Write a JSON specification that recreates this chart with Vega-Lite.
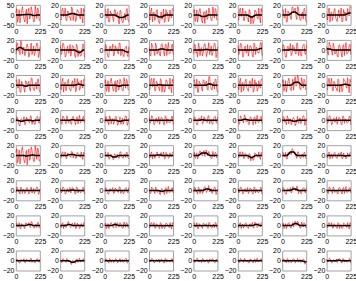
{
"$schema":"https://vega.github.io/schema/vega-lite/v6.json",
"padding":{"left":1,"top":0,"right":0,"bottom":0},
"background":"white",
"data":{"values":[
{"p":1,"x":0,"r":14,"b":0},{"p":1,"x":15,"r":-36,"b":0},{"p":1,"x":30,"r":27,"b":0},{"p":1,"x":45,"r":-9,"b":0},{"p":1,"x":60,"r":42,"b":1},{"p":1,"x":75,"r":-22,"b":1},{"p":1,"x":90,"r":7,"b":2},{"p":1,"x":105,"r":-44,"b":3},{"p":1,"x":120,"r":34,"b":3},{"p":1,"x":135,"r":-11,"b":2},{"p":1,"x":150,"r":22,"b":0},{"p":1,"x":165,"r":-34,"b":-2},{"p":1,"x":180,"r":46,"b":-2},{"p":1,"x":195,"r":-18,"b":0},{"p":1,"x":210,"r":27,"b":0},{"p":1,"x":225,"r":-27,"b":0},
{"p":2,"x":0,"r":-8,"b":0},{"p":2,"x":15,"r":11,"b":0},{"p":2,"x":30,"r":-3,"b":0},{"p":2,"x":45,"r":14,"b":0},{"p":2,"x":60,"r":-11,"b":0},{"p":2,"x":75,"r":6,"b":1},{"p":2,"x":90,"r":-4,"b":2},{"p":2,"x":105,"r":16,"b":3},{"p":2,"x":120,"r":-11,"b":3},{"p":2,"x":135,"r":4,"b":2},{"p":2,"x":150,"r":-9,"b":1},{"p":2,"x":165,"r":8,"b":0},{"p":2,"x":180,"r":-5,"b":0},{"p":2,"x":195,"r":14,"b":0},{"p":2,"x":210,"r":-16,"b":0},{"p":2,"x":225,"r":6,"b":0},
{"p":3,"x":0,"r":10,"b":0},{"p":3,"x":15,"r":-5,"b":0},{"p":3,"x":30,"r":13,"b":0},{"p":3,"x":45,"r":-14,"b":0},{"p":3,"x":60,"r":3,"b":0},{"p":3,"x":75,"r":-6,"b":0},{"p":3,"x":90,"r":11,"b":0},{"p":3,"x":105,"r":-3,"b":-1},{"p":3,"x":120,"r":5,"b":-3},{"p":3,"x":135,"r":-18,"b":-5},{"p":3,"x":150,"r":9,"b":-5},{"p":3,"x":165,"r":-15,"b":-5},{"p":3,"x":180,"r":-2,"b":-4},{"p":3,"x":195,"r":-10,"b":-2},{"p":3,"x":210,"r":13,"b":0},{"p":3,"x":225,"r":-14,"b":0},
{"p":4,"x":0,"r":-3,"b":0},{"p":4,"x":15,"r":8,"b":0},{"p":4,"x":30,"r":-14,"b":0},{"p":4,"x":45,"r":6,"b":0},{"p":4,"x":60,"r":-2,"b":0},{"p":4,"x":75,"r":11,"b":-2},{"p":4,"x":90,"r":-14,"b":-4},{"p":4,"x":105,"r":-1,"b":-4},{"p":4,"x":120,"r":-9,"b":-4},{"p":4,"x":135,"r":12,"b":-2},{"p":4,"x":150,"r":-11,"b":0},{"p":4,"x":165,"r":2,"b":0},{"p":4,"x":180,"r":-13,"b":0},{"p":4,"x":195,"r":10,"b":0},{"p":4,"x":210,"r":-6,"b":0},{"p":4,"x":225,"r":11,"b":0},
{"p":5,"x":0,"r":5,"b":0},{"p":5,"x":15,"r":-13,"b":0},{"p":5,"x":30,"r":10,"b":0},{"p":5,"x":45,"r":-3,"b":0},{"p":5,"x":60,"r":13,"b":-1},{"p":5,"x":75,"r":-11,"b":-3},{"p":5,"x":90,"r":-1,"b":-3},{"p":5,"x":105,"r":-17,"b":-3},{"p":5,"x":120,"r":9,"b":-2},{"p":5,"x":135,"r":-5,"b":0},{"p":5,"x":150,"r":8,"b":0},{"p":5,"x":165,"r":-11,"b":0},{"p":5,"x":180,"r":16,"b":0},{"p":5,"x":195,"r":-6,"b":0},{"p":5,"x":210,"r":10,"b":0},{"p":5,"x":225,"r":-10,"b":0},
{"p":6,"x":0,"r":-8,"b":0},{"p":6,"x":15,"r":11,"b":0},{"p":6,"x":30,"r":-3,"b":0},{"p":6,"x":45,"r":14,"b":0},{"p":6,"x":60,"r":-11,"b":0},{"p":6,"x":75,"r":5,"b":0},{"p":6,"x":90,"r":-6,"b":0},{"p":6,"x":105,"r":11,"b":-2},{"p":6,"x":120,"r":-18,"b":-4},{"p":6,"x":135,"r":-2,"b":-4},{"p":6,"x":150,"r":-12,"b":-2},{"p":6,"x":165,"r":8,"b":0},{"p":6,"x":180,"r":-5,"b":0},{"p":6,"x":195,"r":14,"b":0},{"p":6,"x":210,"r":-16,"b":0},{"p":6,"x":225,"r":6,"b":0},
{"p":7,"x":0,"r":10,"b":0},{"p":7,"x":15,"r":-5,"b":0},{"p":7,"x":30,"r":13,"b":0},{"p":7,"x":45,"r":-14,"b":0},{"p":7,"x":60,"r":3,"b":0},{"p":7,"x":75,"r":-4,"b":2},{"p":7,"x":90,"r":16,"b":5},{"p":7,"x":105,"r":4,"b":6},{"p":7,"x":120,"r":14,"b":6},{"p":7,"x":135,"r":-9,"b":4},{"p":7,"x":150,"r":15,"b":1},{"p":7,"x":165,"r":-10,"b":0},{"p":7,"x":180,"r":2,"b":0},{"p":7,"x":195,"r":-8,"b":0},{"p":7,"x":210,"r":13,"b":0},{"p":7,"x":225,"r":-14,"b":0},
{"p":8,"x":0,"r":-3,"b":0},{"p":8,"x":15,"r":8,"b":0},{"p":8,"x":30,"r":-14,"b":0},{"p":8,"x":45,"r":6,"b":0},{"p":8,"x":60,"r":-2,"b":0},{"p":8,"x":75,"r":13,"b":0},{"p":8,"x":90,"r":-10,"b":0},{"p":8,"x":105,"r":3,"b":0},{"p":8,"x":120,"r":-5,"b":0},{"p":8,"x":135,"r":14,"b":0},{"p":8,"x":150,"r":-11,"b":0},{"p":8,"x":165,"r":2,"b":0},{"p":8,"x":180,"r":-12,"b":1},{"p":8,"x":195,"r":13,"b":3},{"p":8,"x":210,"r":-2,"b":4},{"p":8,"x":225,"r":15,"b":4},
{"p":9,"x":0,"r":-8,"b":0},{"p":9,"x":15,"r":14,"b":3},{"p":9,"x":30,"r":2,"b":5},{"p":9,"x":45,"r":19,"b":5},{"p":9,"x":60,"r":-8,"b":3},{"p":9,"x":75,"r":6,"b":1},{"p":9,"x":90,"r":-6,"b":0},{"p":9,"x":105,"r":12,"b":0},{"p":9,"x":120,"r":-14,"b":0},{"p":9,"x":135,"r":2,"b":0},{"p":9,"x":150,"r":-9,"b":0},{"p":9,"x":165,"r":8,"b":0},{"p":9,"x":180,"r":-5,"b":0},{"p":9,"x":195,"r":14,"b":0},{"p":9,"x":210,"r":-15,"b":0},{"p":9,"x":225,"r":6,"b":0},
{"p":10,"x":0,"r":9,"b":0},{"p":10,"x":15,"r":-5,"b":0},{"p":10,"x":30,"r":12,"b":0},{"p":10,"x":45,"r":-14,"b":0},{"p":10,"x":60,"r":3,"b":0},{"p":10,"x":75,"r":-6,"b":0},{"p":10,"x":90,"r":11,"b":0},{"p":10,"x":105,"r":-2,"b":0},{"p":10,"x":120,"r":8,"b":0},{"p":10,"x":135,"r":-12,"b":0},{"p":10,"x":150,"r":12,"b":-2},{"p":10,"x":165,"r":-13,"b":-4},{"p":10,"x":180,"r":-3,"b":-5},{"p":10,"x":195,"r":-11,"b":-3},{"p":10,"x":210,"r":12,"b":0},{"p":10,"x":225,"r":-14,"b":0},
{"p":11,"x":0,"r":-3,"b":0},{"p":11,"x":15,"r":8,"b":0},{"p":11,"x":30,"r":-14,"b":0},{"p":11,"x":45,"r":6,"b":0},{"p":11,"x":60,"r":-2,"b":0},{"p":11,"x":75,"r":12,"b":0},{"p":11,"x":90,"r":-9,"b":0},{"p":11,"x":105,"r":3,"b":0},{"p":11,"x":120,"r":-5,"b":0},{"p":11,"x":135,"r":14,"b":0},{"p":11,"x":150,"r":-11,"b":0},{"p":11,"x":165,"r":2,"b":0},{"p":11,"x":180,"r":-13,"b":-1},{"p":11,"x":195,"r":6,"b":-3},{"p":11,"x":210,"r":-10,"b":-4},{"p":11,"x":225,"r":7,"b":-4},
{"p":12,"x":0,"r":5,"b":0},{"p":12,"x":15,"r":-12,"b":0},{"p":12,"x":30,"r":9,"b":0},{"p":12,"x":45,"r":-3,"b":0},{"p":12,"x":60,"r":14,"b":0},{"p":12,"x":75,"r":-8,"b":0},{"p":12,"x":90,"r":3,"b":1},{"p":12,"x":105,"r":-12,"b":2},{"p":12,"x":120,"r":13,"b":2},{"p":12,"x":135,"r":-3,"b":2},{"p":12,"x":150,"r":9,"b":1},{"p":12,"x":165,"r":-11,"b":0},{"p":12,"x":180,"r":15,"b":0},{"p":12,"x":195,"r":-6,"b":0},{"p":12,"x":210,"r":9,"b":0},{"p":12,"x":225,"r":-9,"b":0},
{"p":13,"x":0,"r":-8,"b":0},{"p":13,"x":15,"r":11,"b":0},{"p":13,"x":30,"r":-3,"b":0},{"p":13,"x":45,"r":14,"b":0},{"p":13,"x":60,"r":-11,"b":0},{"p":13,"x":75,"r":5,"b":0},{"p":13,"x":90,"r":-6,"b":0},{"p":13,"x":105,"r":13,"b":1},{"p":13,"x":120,"r":-13,"b":1},{"p":13,"x":135,"r":3,"b":1},{"p":13,"x":150,"r":-9,"b":0},{"p":13,"x":165,"r":8,"b":0},{"p":13,"x":180,"r":-5,"b":0},{"p":13,"x":195,"r":14,"b":0},{"p":13,"x":210,"r":-15,"b":0},{"p":13,"x":225,"r":6,"b":0},
{"p":14,"x":0,"r":9,"b":0},{"p":14,"x":15,"r":-5,"b":0},{"p":14,"x":30,"r":12,"b":0},{"p":14,"x":45,"r":-14,"b":0},{"p":14,"x":60,"r":3,"b":0},{"p":14,"x":75,"r":-6,"b":0},{"p":14,"x":90,"r":11,"b":0},{"p":14,"x":105,"r":-2,"b":0},{"p":14,"x":120,"r":8,"b":0},{"p":14,"x":135,"r":-12,"b":0},{"p":14,"x":150,"r":14,"b":0},{"p":14,"x":165,"r":-9,"b":0},{"p":14,"x":180,"r":3,"b":1},{"p":14,"x":195,"r":-6,"b":2},{"p":14,"x":210,"r":15,"b":3},{"p":14,"x":225,"r":-11,"b":3},
{"p":15,"x":0,"r":-3,"b":0},{"p":15,"x":15,"r":8,"b":0},{"p":15,"x":30,"r":-14,"b":0},{"p":15,"x":45,"r":6,"b":0},{"p":15,"x":60,"r":-2,"b":0},{"p":15,"x":75,"r":13,"b":1},{"p":15,"x":90,"r":-8,"b":1},{"p":15,"x":105,"r":3,"b":0},{"p":15,"x":120,"r":-5,"b":0},{"p":15,"x":135,"r":14,"b":0},{"p":15,"x":150,"r":-11,"b":0},{"p":15,"x":165,"r":2,"b":0},{"p":15,"x":180,"r":-12,"b":0},{"p":15,"x":195,"r":9,"b":0},{"p":15,"x":210,"r":-6,"b":0},{"p":15,"x":225,"r":11,"b":0},
{"p":16,"x":0,"r":7,"b":2},{"p":16,"x":15,"r":-10,"b":2},{"p":16,"x":30,"r":11,"b":2},{"p":16,"x":45,"r":-2,"b":1},{"p":16,"x":60,"r":14,"b":0},{"p":16,"x":75,"r":-8,"b":0},{"p":16,"x":90,"r":2,"b":0},{"p":16,"x":105,"r":-14,"b":0},{"p":16,"x":120,"r":11,"b":0},{"p":16,"x":135,"r":-5,"b":0},{"p":16,"x":150,"r":8,"b":0},{"p":16,"x":165,"r":-11,"b":0},{"p":16,"x":180,"r":15,"b":0},{"p":16,"x":195,"r":-6,"b":0},{"p":16,"x":210,"r":9,"b":0},{"p":16,"x":225,"r":-9,"b":0},
{"p":17,"x":0,"r":9,"b":0},{"p":17,"x":15,"r":-5,"b":0},{"p":17,"x":30,"r":12,"b":0},{"p":17,"x":45,"r":-14,"b":0},{"p":17,"x":60,"r":3,"b":0},{"p":17,"x":75,"r":-7,"b":-1},{"p":17,"x":90,"r":9,"b":-2},{"p":17,"x":105,"r":-3,"b":-1},{"p":17,"x":120,"r":8,"b":0},{"p":17,"x":135,"r":-12,"b":0},{"p":17,"x":150,"r":14,"b":0},{"p":17,"x":165,"r":-9,"b":0},{"p":17,"x":180,"r":2,"b":0},{"p":17,"x":195,"r":-8,"b":0},{"p":17,"x":210,"r":12,"b":0},{"p":17,"x":225,"r":-14,"b":0},
{"p":18,"x":0,"r":-3,"b":0},{"p":18,"x":15,"r":8,"b":0},{"p":18,"x":30,"r":-14,"b":0},{"p":18,"x":45,"r":6,"b":0},{"p":18,"x":60,"r":-2,"b":0},{"p":18,"x":75,"r":12,"b":0},{"p":18,"x":90,"r":-9,"b":0},{"p":18,"x":105,"r":3,"b":0},{"p":18,"x":120,"r":-5,"b":0},{"p":18,"x":135,"r":14,"b":0},{"p":18,"x":150,"r":-10,"b":1},{"p":18,"x":165,"r":4,"b":2},{"p":18,"x":180,"r":-10,"b":2},{"p":18,"x":195,"r":10,"b":1},{"p":18,"x":210,"r":-6,"b":0},{"p":18,"x":225,"r":11,"b":0},
{"p":19,"x":0,"r":5,"b":0},{"p":19,"x":15,"r":-12,"b":0},{"p":19,"x":30,"r":9,"b":0},{"p":19,"x":45,"r":-3,"b":0},{"p":19,"x":60,"r":14,"b":0},{"p":19,"x":75,"r":-8,"b":0},{"p":19,"x":90,"r":2,"b":0},{"p":19,"x":105,"r":-14,"b":0},{"p":19,"x":120,"r":10,"b":-1},{"p":19,"x":135,"r":-7,"b":-2},{"p":19,"x":150,"r":7,"b":-1},{"p":19,"x":165,"r":-11,"b":0},{"p":19,"x":180,"r":15,"b":0},{"p":19,"x":195,"r":-6,"b":0},{"p":19,"x":210,"r":9,"b":0},{"p":19,"x":225,"r":-9,"b":0},
{"p":20,"x":0,"r":-8,"b":0},{"p":20,"x":15,"r":11,"b":0},{"p":20,"x":30,"r":-3,"b":0},{"p":20,"x":45,"r":14,"b":0},{"p":20,"x":60,"r":-11,"b":0},{"p":20,"x":75,"r":5,"b":0},{"p":20,"x":90,"r":-5,"b":1},{"p":20,"x":105,"r":13,"b":1},{"p":20,"x":120,"r":-14,"b":0},{"p":20,"x":135,"r":2,"b":0},{"p":20,"x":150,"r":-9,"b":0},{"p":20,"x":165,"r":8,"b":0},{"p":20,"x":180,"r":-5,"b":0},{"p":20,"x":195,"r":14,"b":0},{"p":20,"x":210,"r":-15,"b":0},{"p":20,"x":225,"r":6,"b":0},
{"p":21,"x":0,"r":9,"b":0},{"p":21,"x":15,"r":-5,"b":0},{"p":21,"x":30,"r":12,"b":0},{"p":21,"x":45,"r":-14,"b":0},{"p":21,"x":60,"r":3,"b":0},{"p":21,"x":75,"r":-6,"b":0},{"p":21,"x":90,"r":11,"b":0},{"p":21,"x":105,"r":-2,"b":0},{"p":21,"x":120,"r":8,"b":0},{"p":21,"x":135,"r":-10,"b":2},{"p":21,"x":150,"r":17,"b":3},{"p":21,"x":165,"r":-7,"b":2},{"p":21,"x":180,"r":2,"b":0},{"p":21,"x":195,"r":-8,"b":0},{"p":21,"x":210,"r":12,"b":0},{"p":21,"x":225,"r":-14,"b":0},
{"p":22,"x":0,"r":-3,"b":0},{"p":22,"x":15,"r":8,"b":0},{"p":22,"x":30,"r":-14,"b":0},{"p":22,"x":45,"r":6,"b":0},{"p":22,"x":60,"r":-2,"b":0},{"p":22,"x":75,"r":12,"b":0},{"p":22,"x":90,"r":-9,"b":0},{"p":22,"x":105,"r":3,"b":0},{"p":22,"x":120,"r":-5,"b":0},{"p":22,"x":135,"r":14,"b":0},{"p":22,"x":150,"r":-11,"b":0},{"p":22,"x":165,"r":2,"b":0},{"p":22,"x":180,"r":-12,"b":0},{"p":22,"x":195,"r":9,"b":0},{"p":22,"x":210,"r":-6,"b":0},{"p":22,"x":225,"r":11,"b":0},
{"p":23,"x":0,"r":5,"b":0},{"p":23,"x":15,"r":-12,"b":0},{"p":23,"x":30,"r":9,"b":0},{"p":23,"x":45,"r":-3,"b":0},{"p":23,"x":60,"r":14,"b":0},{"p":23,"x":75,"r":-8,"b":0},{"p":23,"x":90,"r":3,"b":1},{"p":23,"x":105,"r":-10,"b":4},{"p":23,"x":120,"r":17,"b":6},{"p":23,"x":135,"r":1,"b":6},{"p":23,"x":150,"r":14,"b":6},{"p":23,"x":165,"r":-8,"b":3},{"p":23,"x":180,"r":15,"b":0},{"p":23,"x":195,"r":-6,"b":0},{"p":23,"x":210,"r":9,"b":0},{"p":23,"x":225,"r":-9,"b":0},
{"p":24,"x":0,"r":-8,"b":0},{"p":24,"x":15,"r":11,"b":0},{"p":24,"x":30,"r":-3,"b":0},{"p":24,"x":45,"r":14,"b":0},{"p":24,"x":60,"r":-11,"b":0},{"p":24,"x":75,"r":5,"b":0},{"p":24,"x":90,"r":-6,"b":0},{"p":24,"x":105,"r":12,"b":0},{"p":24,"x":120,"r":-14,"b":0},{"p":24,"x":135,"r":2,"b":0},{"p":24,"x":150,"r":-8,"b":1},{"p":24,"x":165,"r":10,"b":2},{"p":24,"x":180,"r":-3,"b":2},{"p":24,"x":195,"r":15,"b":1},{"p":24,"x":210,"r":-15,"b":0},{"p":24,"x":225,"r":6,"b":0},
{"p":25,"x":0,"r":-2,"b":0},{"p":25,"x":15,"r":5,"b":0},{"p":25,"x":30,"r":-10,"b":-1},{"p":25,"x":45,"r":2,"b":-2},{"p":25,"x":60,"r":-3,"b":-2},{"p":25,"x":75,"r":7,"b":-1},{"p":25,"x":90,"r":-6,"b":0},{"p":25,"x":105,"r":2,"b":0},{"p":25,"x":120,"r":-3,"b":0},{"p":25,"x":135,"r":9,"b":0},{"p":25,"x":150,"r":-8,"b":-1},{"p":25,"x":165,"r":0,"b":-1},{"p":25,"x":180,"r":-8,"b":0},{"p":25,"x":195,"r":6,"b":0},{"p":25,"x":210,"r":-4,"b":0},{"p":25,"x":225,"r":7,"b":0},
{"p":26,"x":0,"r":3,"b":0},{"p":26,"x":15,"r":-8,"b":0},{"p":26,"x":30,"r":6,"b":0},{"p":26,"x":45,"r":-2,"b":0},{"p":26,"x":60,"r":9,"b":0},{"p":26,"x":75,"r":-5,"b":0},{"p":26,"x":90,"r":1,"b":0},{"p":26,"x":105,"r":-8,"b":1},{"p":26,"x":120,"r":8,"b":1},{"p":26,"x":135,"r":-3,"b":0},{"p":26,"x":150,"r":5,"b":0},{"p":26,"x":165,"r":-7,"b":0},{"p":26,"x":180,"r":10,"b":0},{"p":26,"x":195,"r":-4,"b":0},{"p":26,"x":210,"r":6,"b":0},{"p":26,"x":225,"r":-6,"b":0},
{"p":27,"x":0,"r":-5,"b":0},{"p":27,"x":15,"r":7,"b":0},{"p":27,"x":30,"r":-2,"b":0},{"p":27,"x":45,"r":9,"b":0},{"p":27,"x":60,"r":-7,"b":0},{"p":27,"x":75,"r":3,"b":0},{"p":27,"x":90,"r":-4,"b":0},{"p":27,"x":105,"r":8,"b":0},{"p":27,"x":120,"r":-10,"b":-1},{"p":27,"x":135,"r":-1,"b":-2},{"p":27,"x":150,"r":-8,"b":-2},{"p":27,"x":165,"r":4,"b":-1},{"p":27,"x":180,"r":-3,"b":0},{"p":27,"x":195,"r":9,"b":0},{"p":27,"x":210,"r":-10,"b":0},{"p":27,"x":225,"r":4,"b":0},
{"p":28,"x":0,"r":6,"b":0},{"p":28,"x":15,"r":-3,"b":0},{"p":28,"x":30,"r":8,"b":0},{"p":28,"x":45,"r":-9,"b":0},{"p":28,"x":60,"r":2,"b":0},{"p":28,"x":75,"r":-4,"b":0},{"p":28,"x":90,"r":7,"b":0},{"p":28,"x":105,"r":-1,"b":0},{"p":28,"x":120,"r":5,"b":0},{"p":28,"x":135,"r":-8,"b":0},{"p":28,"x":150,"r":9,"b":0},{"p":28,"x":165,"r":-6,"b":0},{"p":28,"x":180,"r":1,"b":0},{"p":28,"x":195,"r":-5,"b":0},{"p":28,"x":210,"r":8,"b":0},{"p":28,"x":225,"r":-9,"b":0},
{"p":29,"x":0,"r":-2,"b":0},{"p":29,"x":15,"r":5,"b":0},{"p":29,"x":30,"r":-9,"b":0},{"p":29,"x":45,"r":4,"b":0},{"p":29,"x":60,"r":-1,"b":0},{"p":29,"x":75,"r":9,"b":1},{"p":29,"x":90,"r":-5,"b":1},{"p":29,"x":105,"r":2,"b":0},{"p":29,"x":120,"r":-3,"b":0},{"p":29,"x":135,"r":9,"b":0},{"p":29,"x":150,"r":-7,"b":0},{"p":29,"x":165,"r":1,"b":0},{"p":29,"x":180,"r":-8,"b":0},{"p":29,"x":195,"r":6,"b":0},{"p":29,"x":210,"r":-4,"b":0},{"p":29,"x":225,"r":7,"b":0},
{"p":30,"x":0,"r":3,"b":0},{"p":30,"x":15,"r":-8,"b":0},{"p":30,"x":30,"r":6,"b":0},{"p":30,"x":45,"r":-1,"b":1},{"p":30,"x":60,"r":11,"b":2},{"p":30,"x":75,"r":-3,"b":2},{"p":30,"x":90,"r":2,"b":1},{"p":30,"x":105,"r":-9,"b":0},{"p":30,"x":120,"r":7,"b":0},{"p":30,"x":135,"r":-3,"b":0},{"p":30,"x":150,"r":5,"b":0},{"p":30,"x":165,"r":-7,"b":0},{"p":30,"x":180,"r":10,"b":0},{"p":30,"x":195,"r":-4,"b":0},{"p":30,"x":210,"r":6,"b":0},{"p":30,"x":225,"r":-6,"b":0},
{"p":31,"x":0,"r":-5,"b":0},{"p":31,"x":15,"r":7,"b":0},{"p":31,"x":30,"r":-2,"b":0},{"p":31,"x":45,"r":9,"b":0},{"p":31,"x":60,"r":-7,"b":0},{"p":31,"x":75,"r":3,"b":0},{"p":31,"x":90,"r":-5,"b":-1},{"p":31,"x":105,"r":6,"b":-2},{"p":31,"x":120,"r":-11,"b":-2},{"p":31,"x":135,"r":0,"b":-1},{"p":31,"x":150,"r":-6,"b":0},{"p":31,"x":165,"r":5,"b":0},{"p":31,"x":180,"r":-3,"b":0},{"p":31,"x":195,"r":9,"b":0},{"p":31,"x":210,"r":-10,"b":0},{"p":31,"x":225,"r":4,"b":0},
{"p":32,"x":0,"r":6,"b":0},{"p":32,"x":15,"r":-3,"b":0},{"p":32,"x":30,"r":8,"b":0},{"p":32,"x":45,"r":-9,"b":0},{"p":32,"x":60,"r":2,"b":0},{"p":32,"x":75,"r":-4,"b":0},{"p":32,"x":90,"r":7,"b":0},{"p":32,"x":105,"r":-1,"b":0},{"p":32,"x":120,"r":5,"b":0},{"p":32,"x":135,"r":-8,"b":0},{"p":32,"x":150,"r":9,"b":0},{"p":32,"x":165,"r":-6,"b":0},{"p":32,"x":180,"r":1,"b":0},{"p":32,"x":195,"r":-5,"b":0},{"p":32,"x":210,"r":8,"b":0},{"p":32,"x":225,"r":-9,"b":0},
{"p":33,"x":0,"r":6,"b":0},{"p":33,"x":15,"r":-15,"b":0},{"p":33,"x":30,"r":11,"b":0},{"p":33,"x":45,"r":-4,"b":0},{"p":33,"x":60,"r":17,"b":0},{"p":33,"x":75,"r":-10,"b":0},{"p":33,"x":90,"r":1,"b":-1},{"p":33,"x":105,"r":-19,"b":-1},{"p":33,"x":120,"r":13,"b":0},{"p":33,"x":135,"r":-6,"b":0},{"p":33,"x":150,"r":11,"b":1},{"p":33,"x":165,"r":-12,"b":1},{"p":33,"x":180,"r":19,"b":0},{"p":33,"x":195,"r":-8,"b":0},{"p":33,"x":210,"r":11,"b":0},{"p":33,"x":225,"r":-11,"b":0},
{"p":34,"x":0,"r":-4,"b":0},{"p":34,"x":15,"r":6,"b":0},{"p":34,"x":30,"r":-2,"b":0},{"p":34,"x":45,"r":7,"b":0},{"p":34,"x":60,"r":-6,"b":0},{"p":34,"x":75,"r":3,"b":1},{"p":34,"x":90,"r":-1,"b":2},{"p":34,"x":105,"r":8,"b":2},{"p":34,"x":120,"r":-5,"b":2},{"p":34,"x":135,"r":2,"b":1},{"p":34,"x":150,"r":-5,"b":0},{"p":34,"x":165,"r":4,"b":0},{"p":34,"x":180,"r":-2,"b":0},{"p":34,"x":195,"r":7,"b":0},{"p":34,"x":210,"r":-8,"b":0},{"p":34,"x":225,"r":3,"b":0},
{"p":35,"x":0,"r":5,"b":0},{"p":35,"x":15,"r":-2,"b":0},{"p":35,"x":30,"r":6,"b":0},{"p":35,"x":45,"r":-7,"b":0},{"p":35,"x":60,"r":1,"b":-1},{"p":35,"x":75,"r":-6,"b":-3},{"p":35,"x":90,"r":3,"b":-3},{"p":35,"x":105,"r":-4,"b":-3},{"p":35,"x":120,"r":3,"b":-1},{"p":35,"x":135,"r":-6,"b":0},{"p":35,"x":150,"r":7,"b":0},{"p":35,"x":165,"r":-5,"b":0},{"p":35,"x":180,"r":1,"b":0},{"p":35,"x":195,"r":-4,"b":0},{"p":35,"x":210,"r":6,"b":0},{"p":35,"x":225,"r":-7,"b":0},
{"p":36,"x":0,"r":-2,"b":0},{"p":36,"x":15,"r":4,"b":0},{"p":36,"x":30,"r":-7,"b":0},{"p":36,"x":45,"r":3,"b":0},{"p":36,"x":60,"r":-1,"b":0},{"p":36,"x":75,"r":7,"b":1},{"p":36,"x":90,"r":-4,"b":1},{"p":36,"x":105,"r":3,"b":1},{"p":36,"x":120,"r":-2,"b":0},{"p":36,"x":135,"r":7,"b":0},{"p":36,"x":150,"r":-6,"b":0},{"p":36,"x":165,"r":1,"b":0},{"p":36,"x":180,"r":-6,"b":0},{"p":36,"x":195,"r":5,"b":0},{"p":36,"x":210,"r":-3,"b":0},{"p":36,"x":225,"r":6,"b":0},
{"p":37,"x":0,"r":2,"b":0},{"p":37,"x":15,"r":-6,"b":0},{"p":37,"x":30,"r":5,"b":0},{"p":37,"x":45,"r":-2,"b":0},{"p":37,"x":60,"r":9,"b":2},{"p":37,"x":75,"r":1,"b":5},{"p":37,"x":90,"r":6,"b":5},{"p":37,"x":105,"r":-2,"b":5},{"p":37,"x":120,"r":11,"b":5},{"p":37,"x":135,"r":0,"b":2},{"p":37,"x":150,"r":4,"b":0},{"p":37,"x":165,"r":-6,"b":0},{"p":37,"x":180,"r":8,"b":0},{"p":37,"x":195,"r":-3,"b":0},{"p":37,"x":210,"r":5,"b":0},{"p":37,"x":225,"r":-5,"b":0},
{"p":38,"x":0,"r":-4,"b":0},{"p":38,"x":15,"r":6,"b":0},{"p":38,"x":30,"r":-2,"b":0},{"p":38,"x":45,"r":7,"b":0},{"p":38,"x":60,"r":-6,"b":0},{"p":38,"x":75,"r":2,"b":0},{"p":38,"x":90,"r":-3,"b":0},{"p":38,"x":105,"r":4,"b":-2},{"p":38,"x":120,"r":-11,"b":-4},{"p":38,"x":135,"r":-3,"b":-4},{"p":38,"x":150,"r":-7,"b":-2},{"p":38,"x":165,"r":4,"b":0},{"p":38,"x":180,"r":-2,"b":0},{"p":38,"x":195,"r":7,"b":0},{"p":38,"x":210,"r":-8,"b":0},{"p":38,"x":225,"r":3,"b":0},
{"p":39,"x":0,"r":5,"b":0},{"p":39,"x":15,"r":-2,"b":0},{"p":39,"x":30,"r":6,"b":0},{"p":39,"x":45,"r":-7,"b":0},{"p":39,"x":60,"r":5,"b":3},{"p":39,"x":75,"r":4,"b":7},{"p":39,"x":90,"r":13,"b":7},{"p":39,"x":105,"r":6,"b":7},{"p":39,"x":120,"r":7,"b":3},{"p":39,"x":135,"r":-6,"b":0},{"p":39,"x":150,"r":7,"b":0},{"p":39,"x":165,"r":-5,"b":0},{"p":39,"x":180,"r":1,"b":0},{"p":39,"x":195,"r":-4,"b":0},{"p":39,"x":210,"r":6,"b":0},{"p":39,"x":225,"r":-7,"b":0},
{"p":40,"x":0,"r":-2,"b":0},{"p":40,"x":15,"r":4,"b":0},{"p":40,"x":30,"r":-7,"b":0},{"p":40,"x":45,"r":3,"b":0},{"p":40,"x":60,"r":-1,"b":0},{"p":40,"x":75,"r":6,"b":0},{"p":40,"x":90,"r":-5,"b":0},{"p":40,"x":105,"r":2,"b":0},{"p":40,"x":120,"r":-2,"b":0},{"p":40,"x":135,"r":7,"b":0},{"p":40,"x":150,"r":-6,"b":0},{"p":40,"x":165,"r":0,"b":-1},{"p":40,"x":180,"r":-7,"b":-1},{"p":40,"x":195,"r":5,"b":0},{"p":40,"x":210,"r":-3,"b":0},{"p":40,"x":225,"r":6,"b":0},
{"p":41,"x":0,"r":-4,"b":0},{"p":41,"x":15,"r":6,"b":0},{"p":41,"x":30,"r":-2,"b":0},{"p":41,"x":45,"r":7,"b":0},{"p":41,"x":60,"r":-6,"b":0},{"p":41,"x":75,"r":2,"b":0},{"p":41,"x":90,"r":-3,"b":0},{"p":41,"x":105,"r":6,"b":0},{"p":41,"x":120,"r":-7,"b":0},{"p":41,"x":135,"r":1,"b":0},{"p":41,"x":150,"r":-5,"b":0},{"p":41,"x":165,"r":4,"b":0},{"p":41,"x":180,"r":-2,"b":0},{"p":41,"x":195,"r":7,"b":0},{"p":41,"x":210,"r":-8,"b":0},{"p":41,"x":225,"r":3,"b":0},
{"p":42,"x":0,"r":5,"b":0},{"p":42,"x":15,"r":-2,"b":0},{"p":42,"x":30,"r":6,"b":0},{"p":42,"x":45,"r":-7,"b":0},{"p":42,"x":60,"r":2,"b":0},{"p":42,"x":75,"r":-3,"b":0},{"p":42,"x":90,"r":6,"b":0},{"p":42,"x":105,"r":0,"b":1},{"p":42,"x":120,"r":5,"b":1},{"p":42,"x":135,"r":-6,"b":0},{"p":42,"x":150,"r":7,"b":0},{"p":42,"x":165,"r":-5,"b":0},{"p":42,"x":180,"r":1,"b":0},{"p":42,"x":195,"r":-4,"b":0},{"p":42,"x":210,"r":6,"b":0},{"p":42,"x":225,"r":-7,"b":0},
{"p":43,"x":0,"r":-2,"b":0},{"p":43,"x":15,"r":4,"b":0},{"p":43,"x":30,"r":-7,"b":0},{"p":43,"x":45,"r":3,"b":0},{"p":43,"x":60,"r":-1,"b":0},{"p":43,"x":75,"r":6,"b":0},{"p":43,"x":90,"r":-5,"b":0},{"p":43,"x":105,"r":2,"b":0},{"p":43,"x":120,"r":-2,"b":0},{"p":43,"x":135,"r":7,"b":0},{"p":43,"x":150,"r":-6,"b":0},{"p":43,"x":165,"r":1,"b":0},{"p":43,"x":180,"r":-6,"b":0},{"p":43,"x":195,"r":5,"b":0},{"p":43,"x":210,"r":-3,"b":0},{"p":43,"x":225,"r":6,"b":0},
{"p":44,"x":0,"r":2,"b":0},{"p":44,"x":15,"r":-6,"b":0},{"p":44,"x":30,"r":5,"b":0},{"p":44,"x":45,"r":-2,"b":0},{"p":44,"x":60,"r":7,"b":0},{"p":44,"x":75,"r":-4,"b":0},{"p":44,"x":90,"r":1,"b":0},{"p":44,"x":105,"r":-8,"b":-1},{"p":44,"x":120,"r":4,"b":-2},{"p":44,"x":135,"r":-3,"b":-1},{"p":44,"x":150,"r":4,"b":0},{"p":44,"x":165,"r":-6,"b":0},{"p":44,"x":180,"r":8,"b":0},{"p":44,"x":195,"r":-3,"b":0},{"p":44,"x":210,"r":5,"b":0},{"p":44,"x":225,"r":-5,"b":0},
{"p":45,"x":0,"r":-4,"b":0},{"p":45,"x":15,"r":6,"b":0},{"p":45,"x":30,"r":-2,"b":0},{"p":45,"x":45,"r":7,"b":0},{"p":45,"x":60,"r":-6,"b":0},{"p":45,"x":75,"r":2,"b":0},{"p":45,"x":90,"r":-3,"b":0},{"p":45,"x":105,"r":8,"b":2},{"p":45,"x":120,"r":-4,"b":3},{"p":45,"x":135,"r":4,"b":3},{"p":45,"x":150,"r":-3,"b":2},{"p":45,"x":165,"r":4,"b":0},{"p":45,"x":180,"r":-2,"b":0},{"p":45,"x":195,"r":7,"b":0},{"p":45,"x":210,"r":-8,"b":0},{"p":45,"x":225,"r":3,"b":0},
{"p":46,"x":0,"r":5,"b":0},{"p":46,"x":15,"r":-2,"b":0},{"p":46,"x":30,"r":6,"b":0},{"p":46,"x":45,"r":-7,"b":0},{"p":46,"x":60,"r":2,"b":0},{"p":46,"x":75,"r":-3,"b":0},{"p":46,"x":90,"r":6,"b":0},{"p":46,"x":105,"r":-1,"b":0},{"p":46,"x":120,"r":4,"b":0},{"p":46,"x":135,"r":-6,"b":0},{"p":46,"x":150,"r":7,"b":0},{"p":46,"x":165,"r":-5,"b":0},{"p":46,"x":180,"r":1,"b":0},{"p":46,"x":195,"r":-4,"b":0},{"p":46,"x":210,"r":6,"b":0},{"p":46,"x":225,"r":-7,"b":0},
{"p":47,"x":0,"r":-2,"b":0},{"p":47,"x":15,"r":4,"b":0},{"p":47,"x":30,"r":-7,"b":0},{"p":47,"x":45,"r":3,"b":0},{"p":47,"x":60,"r":-1,"b":0},{"p":47,"x":75,"r":6,"b":0},{"p":47,"x":90,"r":-3,"b":2},{"p":47,"x":105,"r":5,"b":3},{"p":47,"x":120,"r":1,"b":3},{"p":47,"x":135,"r":9,"b":2},{"p":47,"x":150,"r":-6,"b":0},{"p":47,"x":165,"r":1,"b":0},{"p":47,"x":180,"r":-6,"b":0},{"p":47,"x":195,"r":5,"b":0},{"p":47,"x":210,"r":-3,"b":0},{"p":47,"x":225,"r":6,"b":0},
{"p":48,"x":0,"r":2,"b":0},{"p":48,"x":15,"r":-6,"b":0},{"p":48,"x":30,"r":5,"b":0},{"p":48,"x":45,"r":-2,"b":0},{"p":48,"x":60,"r":7,"b":0},{"p":48,"x":75,"r":-4,"b":0},{"p":48,"x":90,"r":1,"b":0},{"p":48,"x":105,"r":-7,"b":0},{"p":48,"x":120,"r":6,"b":0},{"p":48,"x":135,"r":-2,"b":0},{"p":48,"x":150,"r":4,"b":0},{"p":48,"x":165,"r":-6,"b":0},{"p":48,"x":180,"r":8,"b":0},{"p":48,"x":195,"r":-3,"b":0},{"p":48,"x":210,"r":5,"b":0},{"p":48,"x":225,"r":-5,"b":0},
{"p":49,"x":0,"r":4,"b":0},{"p":49,"x":15,"r":-2,"b":0},{"p":49,"x":30,"r":6,"b":0},{"p":49,"x":45,"r":-6,"b":0},{"p":49,"x":60,"r":1,"b":0},{"p":49,"x":75,"r":-3,"b":0},{"p":49,"x":90,"r":5,"b":0},{"p":49,"x":105,"r":0,"b":1},{"p":49,"x":120,"r":6,"b":2},{"p":49,"x":135,"r":-4,"b":2},{"p":49,"x":150,"r":7,"b":1},{"p":49,"x":165,"r":-4,"b":0},{"p":49,"x":180,"r":1,"b":0},{"p":49,"x":195,"r":-4,"b":0},{"p":49,"x":210,"r":6,"b":0},{"p":49,"x":225,"r":-6,"b":0},
{"p":50,"x":0,"r":-1,"b":0},{"p":50,"x":15,"r":4,"b":0},{"p":50,"x":30,"r":-6,"b":0},{"p":50,"x":45,"r":3,"b":0},{"p":50,"x":60,"r":0,"b":1},{"p":50,"x":75,"r":8,"b":2},{"p":50,"x":90,"r":-2,"b":2},{"p":50,"x":105,"r":2,"b":1},{"p":50,"x":120,"r":-2,"b":0},{"p":50,"x":135,"r":6,"b":0},{"p":50,"x":150,"r":-5,"b":0},{"p":50,"x":165,"r":1,"b":0},{"p":50,"x":180,"r":-6,"b":0},{"p":50,"x":195,"r":4,"b":0},{"p":50,"x":210,"r":-3,"b":0},{"p":50,"x":225,"r":5,"b":0},
{"p":51,"x":0,"r":2,"b":0},{"p":51,"x":15,"r":-6,"b":0},{"p":51,"x":30,"r":4,"b":0},{"p":51,"x":45,"r":-1,"b":0},{"p":51,"x":60,"r":6,"b":0},{"p":51,"x":75,"r":-3,"b":1},{"p":51,"x":90,"r":3,"b":2},{"p":51,"x":105,"r":-4,"b":2},{"p":51,"x":120,"r":6,"b":1},{"p":51,"x":135,"r":-2,"b":0},{"p":51,"x":150,"r":4,"b":0},{"p":51,"x":165,"r":-5,"b":0},{"p":51,"x":180,"r":7,"b":0},{"p":51,"x":195,"r":-3,"b":0},{"p":51,"x":210,"r":4,"b":0},{"p":51,"x":225,"r":-4,"b":0},
{"p":52,"x":0,"r":-4,"b":0},{"p":52,"x":15,"r":5,"b":0},{"p":52,"x":30,"r":-1,"b":0},{"p":52,"x":45,"r":6,"b":0},{"p":52,"x":60,"r":-5,"b":0},{"p":52,"x":75,"r":2,"b":0},{"p":52,"x":90,"r":-3,"b":0},{"p":52,"x":105,"r":6,"b":0},{"p":52,"x":120,"r":-6,"b":0},{"p":52,"x":135,"r":1,"b":0},{"p":52,"x":150,"r":-4,"b":0},{"p":52,"x":165,"r":4,"b":0},{"p":52,"x":180,"r":-2,"b":0},{"p":52,"x":195,"r":6,"b":0},{"p":52,"x":210,"r":-7,"b":0},{"p":52,"x":225,"r":3,"b":0},
{"p":53,"x":0,"r":4,"b":0},{"p":53,"x":15,"r":-2,"b":0},{"p":53,"x":30,"r":6,"b":0},{"p":53,"x":45,"r":-6,"b":0},{"p":53,"x":60,"r":1,"b":0},{"p":53,"x":75,"r":-3,"b":0},{"p":53,"x":90,"r":5,"b":0},{"p":53,"x":105,"r":-1,"b":0},{"p":53,"x":120,"r":4,"b":0},{"p":53,"x":135,"r":-6,"b":0},{"p":53,"x":150,"r":6,"b":0},{"p":53,"x":165,"r":-4,"b":0},{"p":53,"x":180,"r":1,"b":0},{"p":53,"x":195,"r":-4,"b":0},{"p":53,"x":210,"r":6,"b":0},{"p":53,"x":225,"r":-6,"b":0},
{"p":54,"x":0,"r":-1,"b":0},{"p":54,"x":15,"r":4,"b":0},{"p":54,"x":30,"r":-6,"b":0},{"p":54,"x":45,"r":3,"b":0},{"p":54,"x":60,"r":-1,"b":0},{"p":54,"x":75,"r":6,"b":0},{"p":54,"x":90,"r":-4,"b":0},{"p":54,"x":105,"r":1,"b":0},{"p":54,"x":120,"r":-2,"b":0},{"p":54,"x":135,"r":6,"b":0},{"p":54,"x":150,"r":-4,"b":1},{"p":54,"x":165,"r":3,"b":2},{"p":54,"x":180,"r":-4,"b":2},{"p":54,"x":195,"r":5,"b":1},{"p":54,"x":210,"r":-3,"b":0},{"p":54,"x":225,"r":5,"b":0},
{"p":55,"x":0,"r":2,"b":0},{"p":55,"x":15,"r":-6,"b":0},{"p":55,"x":30,"r":4,"b":0},{"p":55,"x":45,"r":-1,"b":0},{"p":55,"x":60,"r":6,"b":0},{"p":55,"x":75,"r":-4,"b":0},{"p":55,"x":90,"r":2,"b":1},{"p":55,"x":105,"r":-3,"b":3},{"p":55,"x":120,"r":9,"b":4},{"p":55,"x":135,"r":2,"b":4},{"p":55,"x":150,"r":6,"b":2},{"p":55,"x":165,"r":-5,"b":0},{"p":55,"x":180,"r":7,"b":0},{"p":55,"x":195,"r":-3,"b":0},{"p":55,"x":210,"r":4,"b":0},{"p":55,"x":225,"r":-4,"b":0},
{"p":56,"x":0,"r":-4,"b":0},{"p":56,"x":15,"r":5,"b":0},{"p":56,"x":30,"r":-1,"b":0},{"p":56,"x":45,"r":6,"b":0},{"p":56,"x":60,"r":-5,"b":0},{"p":56,"x":75,"r":2,"b":0},{"p":56,"x":90,"r":-3,"b":0},{"p":56,"x":105,"r":6,"b":0},{"p":56,"x":120,"r":-6,"b":0},{"p":56,"x":135,"r":1,"b":0},{"p":56,"x":150,"r":-4,"b":0},{"p":56,"x":165,"r":4,"b":0},{"p":56,"x":180,"r":-2,"b":0},{"p":56,"x":195,"r":6,"b":0},{"p":56,"x":210,"r":-7,"b":0},{"p":56,"x":225,"r":3,"b":0},
{"p":57,"x":0,"r":-1,"b":0},{"p":57,"x":15,"r":2.5,"b":0},{"p":57,"x":30,"r":-4.5,"b":0},{"p":57,"x":45,"r":2,"b":0},{"p":57,"x":60,"r":-0.5,"b":0},{"p":57,"x":75,"r":4,"b":0},{"p":57,"x":90,"r":-3,"b":0},{"p":57,"x":105,"r":1,"b":0},{"p":57,"x":120,"r":-1.5,"b":0},{"p":57,"x":135,"r":4.5,"b":0},{"p":57,"x":150,"r":-3.5,"b":0},{"p":57,"x":165,"r":0.5,"b":0},{"p":57,"x":180,"r":-4,"b":0},{"p":57,"x":195,"r":3,"b":0},{"p":57,"x":210,"r":-2,"b":0},{"p":57,"x":225,"r":3.5,"b":0},
{"p":58,"x":0,"r":1.5,"b":0},{"p":58,"x":15,"r":-4,"b":0},{"p":58,"x":30,"r":3,"b":0},{"p":58,"x":45,"r":-1,"b":0},{"p":58,"x":60,"r":4.5,"b":0},{"p":58,"x":75,"r":-2.5,"b":0},{"p":58,"x":90,"r":-0.5,"b":-1},{"p":58,"x":105,"r":-7.5,"b":-3},{"p":58,"x":120,"r":0.5,"b":-3},{"p":58,"x":135,"r":-3.5,"b":-2},{"p":58,"x":150,"r":2.5,"b":0},{"p":58,"x":165,"r":-3.5,"b":0},{"p":58,"x":180,"r":5,"b":0},{"p":58,"x":195,"r":-2,"b":0},{"p":58,"x":210,"r":3,"b":0},{"p":58,"x":225,"r":-3,"b":0},
{"p":59,"x":0,"r":-2.5,"b":0},{"p":59,"x":15,"r":3.5,"b":0},{"p":59,"x":30,"r":-1,"b":0},{"p":59,"x":45,"r":4.5,"b":0},{"p":59,"x":60,"r":-3.5,"b":0},{"p":59,"x":75,"r":1.5,"b":0},{"p":59,"x":90,"r":-2,"b":0},{"p":59,"x":105,"r":4,"b":0},{"p":59,"x":120,"r":-4.5,"b":0},{"p":59,"x":135,"r":0.5,"b":0},{"p":59,"x":150,"r":-3,"b":0},{"p":59,"x":165,"r":2.5,"b":0},{"p":59,"x":180,"r":-1.5,"b":0},{"p":59,"x":195,"r":4.5,"b":0},{"p":59,"x":210,"r":-5,"b":0},{"p":59,"x":225,"r":2,"b":0},
{"p":60,"x":0,"r":3,"b":0},{"p":60,"x":15,"r":-1.5,"b":0},{"p":60,"x":30,"r":4,"b":0},{"p":60,"x":45,"r":-4.5,"b":0},{"p":60,"x":60,"r":1,"b":0},{"p":60,"x":75,"r":-2,"b":0},{"p":60,"x":90,"r":3.5,"b":0},{"p":60,"x":105,"r":-0.5,"b":0},{"p":60,"x":120,"r":2.5,"b":0},{"p":60,"x":135,"r":-4,"b":0},{"p":60,"x":150,"r":4.5,"b":0},{"p":60,"x":165,"r":-3,"b":0},{"p":60,"x":180,"r":0.5,"b":0},{"p":60,"x":195,"r":-2.5,"b":0},{"p":60,"x":210,"r":4,"b":0},{"p":60,"x":225,"r":-4.5,"b":0},
{"p":61,"x":0,"r":1,"b":0},{"p":61,"x":15,"r":-2.5,"b":0},{"p":61,"x":30,"r":4.5,"b":0},{"p":61,"x":45,"r":-2,"b":0},{"p":61,"x":60,"r":0.5,"b":0},{"p":61,"x":75,"r":-4,"b":0},{"p":61,"x":90,"r":3,"b":0},{"p":61,"x":105,"r":-1,"b":0},{"p":61,"x":120,"r":1.5,"b":0},{"p":61,"x":135,"r":-4.5,"b":0},{"p":61,"x":150,"r":3.5,"b":0},{"p":61,"x":165,"r":-0.5,"b":0},{"p":61,"x":180,"r":4,"b":0},{"p":61,"x":195,"r":-3,"b":0},{"p":61,"x":210,"r":2,"b":0},{"p":61,"x":225,"r":-3.5,"b":0},
{"p":62,"x":0,"r":1.5,"b":0},{"p":62,"x":15,"r":-4,"b":0},{"p":62,"x":30,"r":3,"b":0},{"p":62,"x":45,"r":-1,"b":0},{"p":62,"x":60,"r":4.5,"b":0},{"p":62,"x":75,"r":-2.5,"b":0},{"p":62,"x":90,"r":0.5,"b":0},{"p":62,"x":105,"r":-4.5,"b":0},{"p":62,"x":120,"r":3.5,"b":0},{"p":62,"x":135,"r":-1.5,"b":0},{"p":62,"x":150,"r":2.5,"b":0},{"p":62,"x":165,"r":-3.5,"b":0},{"p":62,"x":180,"r":5,"b":0},{"p":62,"x":195,"r":-2,"b":0},{"p":62,"x":210,"r":3,"b":0},{"p":62,"x":225,"r":-3,"b":0},
{"p":63,"x":0,"r":-2.5,"b":0},{"p":63,"x":15,"r":3.5,"b":0},{"p":63,"x":30,"r":-1,"b":0},{"p":63,"x":45,"r":4.5,"b":0},{"p":63,"x":60,"r":-3.5,"b":0},{"p":63,"x":75,"r":1.5,"b":0},{"p":63,"x":90,"r":-2,"b":0},{"p":63,"x":105,"r":4,"b":0},{"p":63,"x":120,"r":-4.5,"b":0},{"p":63,"x":135,"r":0.5,"b":0},{"p":63,"x":150,"r":-3,"b":0},{"p":63,"x":165,"r":2.5,"b":0},{"p":63,"x":180,"r":-1.5,"b":0},{"p":63,"x":195,"r":3.5,"b":-1},{"p":63,"x":210,"r":-7,"b":-2},{"p":63,"x":225,"r":0,"b":-2},
{"p":64,"x":0,"r":3,"b":0},{"p":64,"x":15,"r":-1.5,"b":0},{"p":64,"x":30,"r":4,"b":0},{"p":64,"x":45,"r":-4.5,"b":0},{"p":64,"x":60,"r":1,"b":0},{"p":64,"x":75,"r":-2,"b":0},{"p":64,"x":90,"r":3.5,"b":0},{"p":64,"x":105,"r":0.5,"b":1},{"p":64,"x":120,"r":3.5,"b":1},{"p":64,"x":135,"r":-4,"b":0},{"p":64,"x":150,"r":4.5,"b":0},{"p":64,"x":165,"r":-3,"b":0},{"p":64,"x":180,"r":0.5,"b":0},{"p":64,"x":195,"r":-2.5,"b":0},{"p":64,"x":210,"r":4,"b":0},{"p":64,"x":225,"r":-4.5,"b":0},
{"p":1,"x":7.5,"r":31},{"p":1,"x":22.5,"r":-18},{"p":1,"x":37.5,"r":-40},{"p":1,"x":52.5,"r":22},{"p":1,"x":67.5,"r":10},{"p":1,"x":82.5,"r":-35},{"p":1,"x":97.5,"r":29},{"p":1,"x":112.5,"r":16},{"p":1,"x":127.5,"r":-20},{"p":1,"x":142.5,"r":41},{"p":1,"x":157.5,"r":-10},{"p":1,"x":172.5,"r":-33},{"p":1,"x":187.5,"r":17},{"p":1,"x":202.5,"r":36},{"p":1,"x":217.5,"r":-27},
{"p":2,"x":7.5,"r":-10},{"p":2,"x":22.5,"r":14},{"p":2,"x":37.5,"r":3},{"p":2,"x":52.5,"r":-11},{"p":2,"x":67.5,"r":8},{"p":2,"x":82.5,"r":-4},{"p":2,"x":97.5,"r":-11},{"p":2,"x":112.5,"r":13},{"p":2,"x":127.5,"r":4},{"p":2,"x":142.5,"r":-13},{"p":2,"x":157.5,"r":11},{"p":2,"x":172.5,"r":5},{"p":2,"x":187.5,"r":-8},{"p":2,"x":202.5,"r":-3},{"p":2,"x":217.5,"r":13},
{"p":3,"x":7.5,"r":11},{"p":3,"x":22.5,"r":-6},{"p":3,"x":37.5,"r":-14},{"p":3,"x":52.5,"r":8},{"p":3,"x":67.5,"r":3},{"p":3,"x":82.5,"r":-13},{"p":3,"x":97.5,"r":10},{"p":3,"x":112.5,"r":3},{"p":3,"x":127.5,"r":-12},{"p":3,"x":142.5,"r":9},{"p":3,"x":157.5,"r":-8},{"p":3,"x":172.5,"r":-15},{"p":3,"x":187.5,"r":3},{"p":3,"x":202.5,"r":12},{"p":3,"x":217.5,"r":-10},
{"p":4,"x":7.5,"r":-10},{"p":4,"x":22.5,"r":14},{"p":4,"x":37.5,"r":3},{"p":4,"x":52.5,"r":-11},{"p":4,"x":67.5,"r":7},{"p":4,"x":82.5,"r":-8},{"p":4,"x":97.5,"r":-17},{"p":4,"x":112.5,"r":6},{"p":4,"x":127.5,"r":-1},{"p":4,"x":142.5,"r":-15},{"p":4,"x":157.5,"r":11},{"p":4,"x":172.5,"r":5},{"p":4,"x":187.5,"r":-8},{"p":4,"x":202.5,"r":-3},{"p":4,"x":217.5,"r":13},
{"p":5,"x":7.5,"r":11},{"p":5,"x":22.5,"r":-6},{"p":5,"x":37.5,"r":-14},{"p":5,"x":52.5,"r":8},{"p":5,"x":67.5,"r":1},{"p":5,"x":82.5,"r":-16},{"p":5,"x":97.5,"r":7},{"p":5,"x":112.5,"r":3},{"p":5,"x":127.5,"r":-9},{"p":5,"x":142.5,"r":14},{"p":5,"x":157.5,"r":-3},{"p":5,"x":172.5,"r":-11},{"p":5,"x":187.5,"r":6},{"p":5,"x":202.5,"r":13},{"p":5,"x":217.5,"r":-10},
{"p":6,"x":7.5,"r":-10},{"p":6,"x":22.5,"r":14},{"p":6,"x":37.5,"r":3},{"p":6,"x":52.5,"r":-11},{"p":6,"x":67.5,"r":8},{"p":6,"x":82.5,"r":-5},{"p":6,"x":97.5,"r":-14},{"p":6,"x":112.5,"r":7},{"p":6,"x":127.5,"r":-2},{"p":6,"x":142.5,"r":-17},{"p":6,"x":157.5,"r":10},{"p":6,"x":172.5,"r":5},{"p":6,"x":187.5,"r":-8},{"p":6,"x":202.5,"r":-3},{"p":6,"x":217.5,"r":13},
{"p":7,"x":7.5,"r":11},{"p":7,"x":22.5,"r":-6},{"p":7,"x":37.5,"r":-14},{"p":7,"x":52.5,"r":8},{"p":7,"x":67.5,"r":4},{"p":7,"x":82.5,"r":-9},{"p":7,"x":97.5,"r":16},{"p":7,"x":112.5,"r":11},{"p":7,"x":127.5,"r":-3},{"p":7,"x":142.5,"r":17},{"p":7,"x":157.5,"r":-2},{"p":7,"x":172.5,"r":-11},{"p":7,"x":187.5,"r":6},{"p":7,"x":202.5,"r":13},{"p":7,"x":217.5,"r":-10},
{"p":8,"x":7.5,"r":-10},{"p":8,"x":22.5,"r":14},{"p":8,"x":37.5,"r":3},{"p":8,"x":52.5,"r":-11},{"p":8,"x":67.5,"r":8},{"p":8,"x":82.5,"r":-5},{"p":8,"x":97.5,"r":-13},{"p":8,"x":112.5,"r":10},{"p":8,"x":127.5,"r":2},{"p":8,"x":142.5,"r":-14},{"p":8,"x":157.5,"r":11},{"p":8,"x":172.5,"r":6},{"p":8,"x":187.5,"r":-6},{"p":8,"x":202.5,"r":1},{"p":8,"x":217.5,"r":17},
{"p":9,"x":7.5,"r":13},{"p":9,"x":22.5,"r":-2},{"p":9,"x":37.5,"r":-9},{"p":9,"x":52.5,"r":12},{"p":9,"x":67.5,"r":5},{"p":9,"x":82.5,"r":-11},{"p":9,"x":97.5,"r":9},{"p":9,"x":112.5,"r":5},{"p":9,"x":127.5,"r":-8},{"p":9,"x":142.5,"r":14},{"p":9,"x":157.5,"r":-3},{"p":9,"x":172.5,"r":-11},{"p":9,"x":187.5,"r":6},{"p":9,"x":202.5,"r":12},{"p":9,"x":217.5,"r":-9},
{"p":10,"x":7.5,"r":-9},{"p":10,"x":22.5,"r":14},{"p":10,"x":37.5,"r":3},{"p":10,"x":52.5,"r":-11},{"p":10,"x":67.5,"r":8},{"p":10,"x":82.5,"r":-5},{"p":10,"x":97.5,"r":-12},{"p":10,"x":112.5,"r":9},{"p":10,"x":127.5,"r":2},{"p":10,"x":142.5,"r":-15},{"p":10,"x":157.5,"r":8},{"p":10,"x":172.5,"r":0},{"p":10,"x":187.5,"r":-12},{"p":10,"x":202.5,"r":-5},{"p":10,"x":217.5,"r":12},
{"p":11,"x":7.5,"r":11},{"p":11,"x":22.5,"r":-6},{"p":11,"x":37.5,"r":-14},{"p":11,"x":52.5,"r":8},{"p":11,"x":67.5,"r":3},{"p":11,"x":82.5,"r":-12},{"p":11,"x":97.5,"r":9},{"p":11,"x":112.5,"r":5},{"p":11,"x":127.5,"r":-8},{"p":11,"x":142.5,"r":14},{"p":11,"x":157.5,"r":-3},{"p":11,"x":172.5,"r":-12},{"p":11,"x":187.5,"r":4},{"p":11,"x":202.5,"r":8},{"p":11,"x":217.5,"r":-13},
{"p":12,"x":7.5,"r":-9},{"p":12,"x":22.5,"r":14},{"p":12,"x":37.5,"r":3},{"p":12,"x":52.5,"r":-11},{"p":12,"x":67.5,"r":8},{"p":12,"x":82.5,"r":-4},{"p":12,"x":97.5,"r":-10},{"p":12,"x":112.5,"r":11},{"p":12,"x":127.5,"r":4},{"p":12,"x":142.5,"r":-12},{"p":12,"x":157.5,"r":12},{"p":12,"x":172.5,"r":5},{"p":12,"x":187.5,"r":-8},{"p":12,"x":202.5,"r":-3},{"p":12,"x":217.5,"r":12},
{"p":13,"x":7.5,"r":11},{"p":13,"x":22.5,"r":-6},{"p":13,"x":37.5,"r":-14},{"p":13,"x":52.5,"r":8},{"p":13,"x":67.5,"r":3},{"p":13,"x":82.5,"r":-12},{"p":13,"x":97.5,"r":10},{"p":13,"x":112.5,"r":6},{"p":13,"x":127.5,"r":-7},{"p":13,"x":142.5,"r":15},{"p":13,"x":157.5,"r":-3},{"p":13,"x":172.5,"r":-11},{"p":13,"x":187.5,"r":6},{"p":13,"x":202.5,"r":12},{"p":13,"x":217.5,"r":-9},
{"p":14,"x":7.5,"r":-9},{"p":14,"x":22.5,"r":14},{"p":14,"x":37.5,"r":3},{"p":14,"x":52.5,"r":-11},{"p":14,"x":67.5,"r":8},{"p":14,"x":82.5,"r":-5},{"p":14,"x":97.5,"r":-12},{"p":14,"x":112.5,"r":9},{"p":14,"x":127.5,"r":2},{"p":14,"x":142.5,"r":-14},{"p":14,"x":157.5,"r":11},{"p":14,"x":172.5,"r":6},{"p":14,"x":187.5,"r":-6},{"p":14,"x":202.5,"r":0},{"p":14,"x":217.5,"r":15},
{"p":15,"x":7.5,"r":11},{"p":15,"x":22.5,"r":-6},{"p":15,"x":37.5,"r":-14},{"p":15,"x":52.5,"r":8},{"p":15,"x":67.5,"r":4},{"p":15,"x":82.5,"r":-11},{"p":15,"x":97.5,"r":10},{"p":15,"x":112.5,"r":5},{"p":15,"x":127.5,"r":-8},{"p":15,"x":142.5,"r":14},{"p":15,"x":157.5,"r":-3},{"p":15,"x":172.5,"r":-11},{"p":15,"x":187.5,"r":6},{"p":15,"x":202.5,"r":12},{"p":15,"x":217.5,"r":-9},
{"p":16,"x":7.5,"r":-7},{"p":16,"x":22.5,"r":16},{"p":16,"x":37.5,"r":5},{"p":16,"x":52.5,"r":-10},{"p":16,"x":67.5,"r":8},{"p":16,"x":82.5,"r":-5},{"p":16,"x":97.5,"r":-12},{"p":16,"x":112.5,"r":9},{"p":16,"x":127.5,"r":2},{"p":16,"x":142.5,"r":-14},{"p":16,"x":157.5,"r":11},{"p":16,"x":172.5,"r":5},{"p":16,"x":187.5,"r":-8},{"p":16,"x":202.5,"r":-3},{"p":16,"x":217.5,"r":12},
{"p":17,"x":7.5,"r":11},{"p":17,"x":22.5,"r":-6},{"p":17,"x":37.5,"r":-14},{"p":17,"x":52.5,"r":8},{"p":17,"x":67.5,"r":2},{"p":17,"x":82.5,"r":-14},{"p":17,"x":97.5,"r":7},{"p":17,"x":112.5,"r":4},{"p":17,"x":127.5,"r":-8},{"p":17,"x":142.5,"r":14},{"p":17,"x":157.5,"r":-3},{"p":17,"x":172.5,"r":-11},{"p":17,"x":187.5,"r":6},{"p":17,"x":202.5,"r":12},{"p":17,"x":217.5,"r":-9},
{"p":18,"x":7.5,"r":-9},{"p":18,"x":22.5,"r":14},{"p":18,"x":37.5,"r":3},{"p":18,"x":52.5,"r":-11},{"p":18,"x":67.5,"r":8},{"p":18,"x":82.5,"r":-5},{"p":18,"x":97.5,"r":-12},{"p":18,"x":112.5,"r":9},{"p":18,"x":127.5,"r":2},{"p":18,"x":142.5,"r":-13},{"p":18,"x":157.5,"r":13},{"p":18,"x":172.5,"r":7},{"p":18,"x":187.5,"r":-6},{"p":18,"x":202.5,"r":-2},{"p":18,"x":217.5,"r":12},
{"p":19,"x":7.5,"r":11},{"p":19,"x":22.5,"r":-6},{"p":19,"x":37.5,"r":-14},{"p":19,"x":52.5,"r":8},{"p":19,"x":67.5,"r":3},{"p":19,"x":82.5,"r":-12},{"p":19,"x":97.5,"r":9},{"p":19,"x":112.5,"r":4},{"p":19,"x":127.5,"r":-10},{"p":19,"x":142.5,"r":12},{"p":19,"x":157.5,"r":-4},{"p":19,"x":172.5,"r":-11},{"p":19,"x":187.5,"r":6},{"p":19,"x":202.5,"r":12},{"p":19,"x":217.5,"r":-9},
{"p":20,"x":7.5,"r":-9},{"p":20,"x":22.5,"r":14},{"p":20,"x":37.5,"r":3},{"p":20,"x":52.5,"r":-11},{"p":20,"x":67.5,"r":8},{"p":20,"x":82.5,"r":-4},{"p":20,"x":97.5,"r":-11},{"p":20,"x":112.5,"r":10},{"p":20,"x":127.5,"r":2},{"p":20,"x":142.5,"r":-14},{"p":20,"x":157.5,"r":11},{"p":20,"x":172.5,"r":5},{"p":20,"x":187.5,"r":-8},{"p":20,"x":202.5,"r":-3},{"p":20,"x":217.5,"r":12},
{"p":21,"x":7.5,"r":11},{"p":21,"x":22.5,"r":-6},{"p":21,"x":37.5,"r":-14},{"p":21,"x":52.5,"r":8},{"p":21,"x":67.5,"r":3},{"p":21,"x":82.5,"r":-12},{"p":21,"x":97.5,"r":9},{"p":21,"x":112.5,"r":5},{"p":21,"x":127.5,"r":-7},{"p":21,"x":142.5,"r":17},{"p":21,"x":157.5,"r":0},{"p":21,"x":172.5,"r":-10},{"p":21,"x":187.5,"r":6},{"p":21,"x":202.5,"r":12},{"p":21,"x":217.5,"r":-9},
{"p":22,"x":7.5,"r":-9},{"p":22,"x":22.5,"r":14},{"p":22,"x":37.5,"r":3},{"p":22,"x":52.5,"r":-11},{"p":22,"x":67.5,"r":8},{"p":22,"x":82.5,"r":-5},{"p":22,"x":97.5,"r":-12},{"p":22,"x":112.5,"r":9},{"p":22,"x":127.5,"r":2},{"p":22,"x":142.5,"r":-14},{"p":22,"x":157.5,"r":11},{"p":22,"x":172.5,"r":5},{"p":22,"x":187.5,"r":-8},{"p":22,"x":202.5,"r":-3},{"p":22,"x":217.5,"r":12},
{"p":23,"x":7.5,"r":11},{"p":23,"x":22.5,"r":-6},{"p":23,"x":37.5,"r":-14},{"p":23,"x":52.5,"r":8},{"p":23,"x":67.5,"r":3},{"p":23,"x":82.5,"r":-11},{"p":23,"x":97.5,"r":12},{"p":23,"x":112.5,"r":10},{"p":23,"x":127.5,"r":-2},{"p":23,"x":142.5,"r":20},{"p":23,"x":157.5,"r":2},{"p":23,"x":172.5,"r":-9},{"p":23,"x":187.5,"r":6},{"p":23,"x":202.5,"r":12},{"p":23,"x":217.5,"r":-9},
{"p":24,"x":7.5,"r":-9},{"p":24,"x":22.5,"r":14},{"p":24,"x":37.5,"r":3},{"p":24,"x":52.5,"r":-11},{"p":24,"x":67.5,"r":8},{"p":24,"x":82.5,"r":-5},{"p":24,"x":97.5,"r":-12},{"p":24,"x":112.5,"r":9},{"p":24,"x":127.5,"r":2},{"p":24,"x":142.5,"r":-13},{"p":24,"x":157.5,"r":13},{"p":24,"x":172.5,"r":7},{"p":24,"x":187.5,"r":-6},{"p":24,"x":202.5,"r":-2},{"p":24,"x":217.5,"r":12},
{"p":25,"x":7.5,"r":7},{"p":25,"x":22.5,"r":-5},{"p":25,"x":37.5,"r":-11},{"p":25,"x":52.5,"r":3},{"p":25,"x":67.5,"r":0},{"p":25,"x":82.5,"r":-9},{"p":25,"x":97.5,"r":6},{"p":25,"x":112.5,"r":3},{"p":25,"x":127.5,"r":-5},{"p":25,"x":142.5,"r":8},{"p":25,"x":157.5,"r":-3},{"p":25,"x":172.5,"r":-8},{"p":25,"x":187.5,"r":4},{"p":25,"x":202.5,"r":8},{"p":25,"x":217.5,"r":-6},
{"p":26,"x":7.5,"r":-6},{"p":26,"x":22.5,"r":9},{"p":26,"x":37.5,"r":2},{"p":26,"x":52.5,"r":-7},{"p":26,"x":67.5,"r":5},{"p":26,"x":82.5,"r":-3},{"p":26,"x":97.5,"r":-7},{"p":26,"x":112.5,"r":7},{"p":26,"x":127.5,"r":2},{"p":26,"x":142.5,"r":-9},{"p":26,"x":157.5,"r":7},{"p":26,"x":172.5,"r":3},{"p":26,"x":187.5,"r":-5},{"p":26,"x":202.5,"r":-2},{"p":26,"x":217.5,"r":8},
{"p":27,"x":7.5,"r":7},{"p":27,"x":22.5,"r":-4},{"p":27,"x":37.5,"r":-9},{"p":27,"x":52.5,"r":5},{"p":27,"x":67.5,"r":2},{"p":27,"x":82.5,"r":-8},{"p":27,"x":97.5,"r":6},{"p":27,"x":112.5,"r":2},{"p":27,"x":127.5,"r":-7},{"p":27,"x":142.5,"r":7},{"p":27,"x":157.5,"r":-4},{"p":27,"x":172.5,"r":-8},{"p":27,"x":187.5,"r":4},{"p":27,"x":202.5,"r":8},{"p":27,"x":217.5,"r":-6},
{"p":28,"x":7.5,"r":-6},{"p":28,"x":22.5,"r":9},{"p":28,"x":37.5,"r":2},{"p":28,"x":52.5,"r":-7},{"p":28,"x":67.5,"r":5},{"p":28,"x":82.5,"r":-3},{"p":28,"x":97.5,"r":-8},{"p":28,"x":112.5,"r":6},{"p":28,"x":127.5,"r":1},{"p":28,"x":142.5,"r":-9},{"p":28,"x":157.5,"r":7},{"p":28,"x":172.5,"r":3},{"p":28,"x":187.5,"r":-5},{"p":28,"x":202.5,"r":-2},{"p":28,"x":217.5,"r":8},
{"p":29,"x":7.5,"r":7},{"p":29,"x":22.5,"r":-4},{"p":29,"x":37.5,"r":-9},{"p":29,"x":52.5,"r":5},{"p":29,"x":67.5,"r":3},{"p":29,"x":82.5,"r":-7},{"p":29,"x":97.5,"r":7},{"p":29,"x":112.5,"r":3},{"p":29,"x":127.5,"r":-5},{"p":29,"x":142.5,"r":9},{"p":29,"x":157.5,"r":-2},{"p":29,"x":172.5,"r":-7},{"p":29,"x":187.5,"r":4},{"p":29,"x":202.5,"r":8},{"p":29,"x":217.5,"r":-6},
{"p":30,"x":7.5,"r":-6},{"p":30,"x":22.5,"r":9},{"p":30,"x":37.5,"r":3},{"p":30,"x":52.5,"r":-5},{"p":30,"x":67.5,"r":7},{"p":30,"x":82.5,"r":-1},{"p":30,"x":97.5,"r":-7},{"p":30,"x":112.5,"r":6},{"p":30,"x":127.5,"r":1},{"p":30,"x":142.5,"r":-9},{"p":30,"x":157.5,"r":7},{"p":30,"x":172.5,"r":3},{"p":30,"x":187.5,"r":-5},{"p":30,"x":202.5,"r":-2},{"p":30,"x":217.5,"r":8},
{"p":31,"x":7.5,"r":7},{"p":31,"x":22.5,"r":-4},{"p":31,"x":37.5,"r":-9},{"p":31,"x":52.5,"r":5},{"p":31,"x":67.5,"r":2},{"p":31,"x":82.5,"r":-9},{"p":31,"x":97.5,"r":4},{"p":31,"x":112.5,"r":1},{"p":31,"x":127.5,"r":-7},{"p":31,"x":142.5,"r":8},{"p":31,"x":157.5,"r":-2},{"p":31,"x":172.5,"r":-7},{"p":31,"x":187.5,"r":4},{"p":31,"x":202.5,"r":8},{"p":31,"x":217.5,"r":-6},
{"p":32,"x":7.5,"r":-6},{"p":32,"x":22.5,"r":9},{"p":32,"x":37.5,"r":2},{"p":32,"x":52.5,"r":-7},{"p":32,"x":67.5,"r":5},{"p":32,"x":82.5,"r":-3},{"p":32,"x":97.5,"r":-8},{"p":32,"x":112.5,"r":6},{"p":32,"x":127.5,"r":1},{"p":32,"x":142.5,"r":-9},{"p":32,"x":157.5,"r":7},{"p":32,"x":172.5,"r":3},{"p":32,"x":187.5,"r":-5},{"p":32,"x":202.5,"r":-2},{"p":32,"x":217.5,"r":8},
{"p":33,"x":7.5,"r":13},{"p":33,"x":22.5,"r":-8},{"p":33,"x":37.5,"r":-17},{"p":33,"x":52.5,"r":10},{"p":33,"x":67.5,"r":4},{"p":33,"x":82.5,"r":-15},{"p":33,"x":97.5,"r":10},{"p":33,"x":112.5,"r":5},{"p":33,"x":127.5,"r":-10},{"p":33,"x":142.5,"r":17},{"p":33,"x":157.5,"r":-3},{"p":33,"x":172.5,"r":-12},{"p":33,"x":187.5,"r":8},{"p":33,"x":202.5,"r":15},{"p":33,"x":217.5,"r":-11},
{"p":34,"x":7.5,"r":-5},{"p":34,"x":22.5,"r":7},{"p":34,"x":37.5,"r":2},{"p":34,"x":52.5,"r":-6},{"p":34,"x":67.5,"r":5},{"p":34,"x":82.5,"r":0},{"p":34,"x":97.5,"r":-4},{"p":34,"x":112.5,"r":7},{"p":34,"x":127.5,"r":3},{"p":34,"x":142.5,"r":-6},{"p":34,"x":157.5,"r":6},{"p":34,"x":172.5,"r":2},{"p":34,"x":187.5,"r":-4},{"p":34,"x":202.5,"r":-2},{"p":34,"x":217.5,"r":6},
{"p":35,"x":7.5,"r":6},{"p":35,"x":22.5,"r":-3},{"p":35,"x":37.5,"r":-7},{"p":35,"x":52.5,"r":3},{"p":35,"x":67.5,"r":0},{"p":35,"x":82.5,"r":-9},{"p":35,"x":97.5,"r":2},{"p":35,"x":112.5,"r":0},{"p":35,"x":127.5,"r":-5},{"p":35,"x":142.5,"r":7},{"p":35,"x":157.5,"r":-2},{"p":35,"x":172.5,"r":-6},{"p":35,"x":187.5,"r":3},{"p":35,"x":202.5,"r":6},{"p":35,"x":217.5,"r":-5},
{"p":36,"x":7.5,"r":-5},{"p":36,"x":22.5,"r":7},{"p":36,"x":37.5,"r":2},{"p":36,"x":52.5,"r":-6},{"p":36,"x":67.5,"r":5},{"p":36,"x":82.5,"r":-1},{"p":36,"x":97.5,"r":-5},{"p":36,"x":112.5,"r":6},{"p":36,"x":127.5,"r":1},{"p":36,"x":142.5,"r":-7},{"p":36,"x":157.5,"r":6},{"p":36,"x":172.5,"r":2},{"p":36,"x":187.5,"r":-4},{"p":36,"x":202.5,"r":-2},{"p":36,"x":217.5,"r":6},
{"p":37,"x":7.5,"r":6},{"p":37,"x":22.5,"r":-3},{"p":37,"x":37.5,"r":-7},{"p":37,"x":52.5,"r":5},{"p":37,"x":67.5,"r":6},{"p":37,"x":82.5,"r":-1},{"p":37,"x":97.5,"r":10},{"p":37,"x":112.5,"r":7},{"p":37,"x":127.5,"r":0},{"p":37,"x":142.5,"r":8},{"p":37,"x":157.5,"r":-2},{"p":37,"x":172.5,"r":-6},{"p":37,"x":187.5,"r":3},{"p":37,"x":202.5,"r":6},{"p":37,"x":217.5,"r":-5},
{"p":38,"x":7.5,"r":-5},{"p":38,"x":22.5,"r":7},{"p":38,"x":37.5,"r":2},{"p":38,"x":52.5,"r":-6},{"p":38,"x":67.5,"r":4},{"p":38,"x":82.5,"r":-2},{"p":38,"x":97.5,"r":-7},{"p":38,"x":112.5,"r":2},{"p":38,"x":127.5,"r":-3},{"p":38,"x":142.5,"r":-10},{"p":38,"x":157.5,"r":5},{"p":38,"x":172.5,"r":2},{"p":38,"x":187.5,"r":-4},{"p":38,"x":202.5,"r":-2},{"p":38,"x":217.5,"r":6},
{"p":39,"x":7.5,"r":6},{"p":39,"x":22.5,"r":-3},{"p":39,"x":37.5,"r":-7},{"p":39,"x":52.5,"r":6},{"p":39,"x":67.5,"r":7},{"p":39,"x":82.5,"r":1},{"p":39,"x":97.5,"r":12},{"p":39,"x":112.5,"r":7},{"p":39,"x":127.5,"r":-2},{"p":39,"x":142.5,"r":7},{"p":39,"x":157.5,"r":-2},{"p":39,"x":172.5,"r":-6},{"p":39,"x":187.5,"r":3},{"p":39,"x":202.5,"r":6},{"p":39,"x":217.5,"r":-5},
{"p":40,"x":7.5,"r":-5},{"p":40,"x":22.5,"r":7},{"p":40,"x":37.5,"r":2},{"p":40,"x":52.5,"r":-6},{"p":40,"x":67.5,"r":4},{"p":40,"x":82.5,"r":-2},{"p":40,"x":97.5,"r":-6},{"p":40,"x":112.5,"r":5},{"p":40,"x":127.5,"r":1},{"p":40,"x":142.5,"r":-7},{"p":40,"x":157.5,"r":5},{"p":40,"x":172.5,"r":1},{"p":40,"x":187.5,"r":-5},{"p":40,"x":202.5,"r":-2},{"p":40,"x":217.5,"r":6},
{"p":41,"x":7.5,"r":6},{"p":41,"x":22.5,"r":-3},{"p":41,"x":37.5,"r":-7},{"p":41,"x":52.5,"r":4},{"p":41,"x":67.5,"r":2},{"p":41,"x":82.5,"r":-6},{"p":41,"x":97.5,"r":5},{"p":41,"x":112.5,"r":2},{"p":41,"x":127.5,"r":-4},{"p":41,"x":142.5,"r":7},{"p":41,"x":157.5,"r":-2},{"p":41,"x":172.5,"r":-6},{"p":41,"x":187.5,"r":3},{"p":41,"x":202.5,"r":6},{"p":41,"x":217.5,"r":-5},
{"p":42,"x":7.5,"r":-5},{"p":42,"x":22.5,"r":7},{"p":42,"x":37.5,"r":2},{"p":42,"x":52.5,"r":-6},{"p":42,"x":67.5,"r":4},{"p":42,"x":82.5,"r":-2},{"p":42,"x":97.5,"r":-5},{"p":42,"x":112.5,"r":6},{"p":42,"x":127.5,"r":2},{"p":42,"x":142.5,"r":-7},{"p":42,"x":157.5,"r":6},{"p":42,"x":172.5,"r":2},{"p":42,"x":187.5,"r":-4},{"p":42,"x":202.5,"r":-2},{"p":42,"x":217.5,"r":6},
{"p":43,"x":7.5,"r":6},{"p":43,"x":22.5,"r":-3},{"p":43,"x":37.5,"r":-7},{"p":43,"x":52.5,"r":4},{"p":43,"x":67.5,"r":2},{"p":43,"x":82.5,"r":-6},{"p":43,"x":97.5,"r":5},{"p":43,"x":112.5,"r":2},{"p":43,"x":127.5,"r":-4},{"p":43,"x":142.5,"r":7},{"p":43,"x":157.5,"r":-2},{"p":43,"x":172.5,"r":-6},{"p":43,"x":187.5,"r":3},{"p":43,"x":202.5,"r":6},{"p":43,"x":217.5,"r":-5},
{"p":44,"x":7.5,"r":-5},{"p":44,"x":22.5,"r":7},{"p":44,"x":37.5,"r":2},{"p":44,"x":52.5,"r":-6},{"p":44,"x":67.5,"r":4},{"p":44,"x":82.5,"r":-2},{"p":44,"x":97.5,"r":-7},{"p":44,"x":112.5,"r":3},{"p":44,"x":127.5,"r":-1},{"p":44,"x":142.5,"r":-8},{"p":44,"x":157.5,"r":6},{"p":44,"x":172.5,"r":2},{"p":44,"x":187.5,"r":-4},{"p":44,"x":202.5,"r":-2},{"p":44,"x":217.5,"r":6},
{"p":45,"x":7.5,"r":6},{"p":45,"x":22.5,"r":-3},{"p":45,"x":37.5,"r":-7},{"p":45,"x":52.5,"r":4},{"p":45,"x":67.5,"r":2},{"p":45,"x":82.5,"r":-6},{"p":45,"x":97.5,"r":6},{"p":45,"x":112.5,"r":5},{"p":45,"x":127.5,"r":-1},{"p":45,"x":142.5,"r":10},{"p":45,"x":157.5,"r":-1},{"p":45,"x":172.5,"r":-6},{"p":45,"x":187.5,"r":3},{"p":45,"x":202.5,"r":6},{"p":45,"x":217.5,"r":-5},
{"p":46,"x":7.5,"r":-5},{"p":46,"x":22.5,"r":7},{"p":46,"x":37.5,"r":2},{"p":46,"x":52.5,"r":-6},{"p":46,"x":67.5,"r":4},{"p":46,"x":82.5,"r":-2},{"p":46,"x":97.5,"r":-6},{"p":46,"x":112.5,"r":5},{"p":46,"x":127.5,"r":1},{"p":46,"x":142.5,"r":-7},{"p":46,"x":157.5,"r":6},{"p":46,"x":172.5,"r":2},{"p":46,"x":187.5,"r":-4},{"p":46,"x":202.5,"r":-2},{"p":46,"x":217.5,"r":6},
{"p":47,"x":7.5,"r":6},{"p":47,"x":22.5,"r":-3},{"p":47,"x":37.5,"r":-7},{"p":47,"x":52.5,"r":4},{"p":47,"x":67.5,"r":2},{"p":47,"x":82.5,"r":-5},{"p":47,"x":97.5,"r":8},{"p":47,"x":112.5,"r":5},{"p":47,"x":127.5,"r":-1},{"p":47,"x":142.5,"r":8},{"p":47,"x":157.5,"r":-2},{"p":47,"x":172.5,"r":-6},{"p":47,"x":187.5,"r":3},{"p":47,"x":202.5,"r":6},{"p":47,"x":217.5,"r":-5},
{"p":48,"x":7.5,"r":-5},{"p":48,"x":22.5,"r":7},{"p":48,"x":37.5,"r":2},{"p":48,"x":52.5,"r":-6},{"p":48,"x":67.5,"r":4},{"p":48,"x":82.5,"r":-2},{"p":48,"x":97.5,"r":-6},{"p":48,"x":112.5,"r":5},{"p":48,"x":127.5,"r":1},{"p":48,"x":142.5,"r":-7},{"p":48,"x":157.5,"r":6},{"p":48,"x":172.5,"r":2},{"p":48,"x":187.5,"r":-4},{"p":48,"x":202.5,"r":-2},{"p":48,"x":217.5,"r":6},
{"p":49,"x":7.5,"r":5},{"p":49,"x":22.5,"r":-3},{"p":49,"x":37.5,"r":-6},{"p":49,"x":52.5,"r":4},{"p":49,"x":67.5,"r":1},{"p":49,"x":82.5,"r":-6},{"p":49,"x":97.5,"r":5},{"p":49,"x":112.5,"r":4},{"p":49,"x":127.5,"r":-2},{"p":49,"x":142.5,"r":8},{"p":49,"x":157.5,"r":0},{"p":49,"x":172.5,"r":-5},{"p":49,"x":187.5,"r":3},{"p":49,"x":202.5,"r":6},{"p":49,"x":217.5,"r":-4},
{"p":50,"x":7.5,"r":-4},{"p":50,"x":22.5,"r":6},{"p":50,"x":37.5,"r":1},{"p":50,"x":52.5,"r":-4},{"p":50,"x":67.5,"r":6},{"p":50,"x":82.5,"r":0},{"p":50,"x":97.5,"r":-4},{"p":50,"x":112.5,"r":5},{"p":50,"x":127.5,"r":1},{"p":50,"x":142.5,"r":-6},{"p":50,"x":157.5,"r":5},{"p":50,"x":172.5,"r":2},{"p":50,"x":187.5,"r":-4},{"p":50,"x":202.5,"r":-1},{"p":50,"x":217.5,"r":6},
{"p":51,"x":7.5,"r":5},{"p":51,"x":22.5,"r":-3},{"p":51,"x":37.5,"r":-6},{"p":51,"x":52.5,"r":4},{"p":51,"x":67.5,"r":2},{"p":51,"x":82.5,"r":-4},{"p":51,"x":97.5,"r":6},{"p":51,"x":112.5,"r":4},{"p":51,"x":127.5,"r":-3},{"p":51,"x":142.5,"r":6},{"p":51,"x":157.5,"r":-1},{"p":51,"x":172.5,"r":-5},{"p":51,"x":187.5,"r":3},{"p":51,"x":202.5,"r":6},{"p":51,"x":217.5,"r":-4},
{"p":52,"x":7.5,"r":-4},{"p":52,"x":22.5,"r":6},{"p":52,"x":37.5,"r":1},{"p":52,"x":52.5,"r":-5},{"p":52,"x":67.5,"r":4},{"p":52,"x":82.5,"r":-2},{"p":52,"x":97.5,"r":-6},{"p":52,"x":112.5,"r":4},{"p":52,"x":127.5,"r":1},{"p":52,"x":142.5,"r":-6},{"p":52,"x":157.5,"r":5},{"p":52,"x":172.5,"r":2},{"p":52,"x":187.5,"r":-4},{"p":52,"x":202.5,"r":-1},{"p":52,"x":217.5,"r":6},
{"p":53,"x":7.5,"r":5},{"p":53,"x":22.5,"r":-3},{"p":53,"x":37.5,"r":-6},{"p":53,"x":52.5,"r":4},{"p":53,"x":67.5,"r":1},{"p":53,"x":82.5,"r":-6},{"p":53,"x":97.5,"r":4},{"p":53,"x":112.5,"r":2},{"p":53,"x":127.5,"r":-4},{"p":53,"x":142.5,"r":6},{"p":53,"x":157.5,"r":-1},{"p":53,"x":172.5,"r":-5},{"p":53,"x":187.5,"r":3},{"p":53,"x":202.5,"r":6},{"p":53,"x":217.5,"r":-4},
{"p":54,"x":7.5,"r":-4},{"p":54,"x":22.5,"r":6},{"p":54,"x":37.5,"r":1},{"p":54,"x":52.5,"r":-5},{"p":54,"x":67.5,"r":4},{"p":54,"x":82.5,"r":-2},{"p":54,"x":97.5,"r":-6},{"p":54,"x":112.5,"r":4},{"p":54,"x":127.5,"r":1},{"p":54,"x":142.5,"r":-5},{"p":54,"x":157.5,"r":7},{"p":54,"x":172.5,"r":4},{"p":54,"x":187.5,"r":-2},{"p":54,"x":202.5,"r":0},{"p":54,"x":217.5,"r":6},
{"p":55,"x":7.5,"r":5},{"p":55,"x":22.5,"r":-3},{"p":55,"x":37.5,"r":-6},{"p":55,"x":52.5,"r":4},{"p":55,"x":67.5,"r":1},{"p":55,"x":82.5,"r":-5},{"p":55,"x":97.5,"r":6},{"p":55,"x":112.5,"r":6},{"p":55,"x":127.5,"r":0},{"p":55,"x":142.5,"r":9},{"p":55,"x":157.5,"r":0},{"p":55,"x":172.5,"r":-5},{"p":55,"x":187.5,"r":3},{"p":55,"x":202.5,"r":6},{"p":55,"x":217.5,"r":-4},
{"p":56,"x":7.5,"r":-4},{"p":56,"x":22.5,"r":6},{"p":56,"x":37.5,"r":1},{"p":56,"x":52.5,"r":-5},{"p":56,"x":67.5,"r":4},{"p":56,"x":82.5,"r":-2},{"p":56,"x":97.5,"r":-6},{"p":56,"x":112.5,"r":4},{"p":56,"x":127.5,"r":1},{"p":56,"x":142.5,"r":-6},{"p":56,"x":157.5,"r":5},{"p":56,"x":172.5,"r":2},{"p":56,"x":187.5,"r":-4},{"p":56,"x":202.5,"r":-1},{"p":56,"x":217.5,"r":6},
{"p":57,"x":7.5,"r":3.5},{"p":57,"x":22.5,"r":-2},{"p":57,"x":37.5,"r":-4.5},{"p":57,"x":52.5,"r":2.5},{"p":57,"x":67.5,"r":1},{"p":57,"x":82.5,"r":-4},{"p":57,"x":97.5,"r":3},{"p":57,"x":112.5,"r":1.5},{"p":57,"x":127.5,"r":-2.5},{"p":57,"x":142.5,"r":4.5},{"p":57,"x":157.5,"r":-1},{"p":57,"x":172.5,"r":-3.5},{"p":57,"x":187.5,"r":2},{"p":57,"x":202.5,"r":4},{"p":57,"x":217.5,"r":-3},
{"p":58,"x":7.5,"r":-3},{"p":58,"x":22.5,"r":4.5},{"p":58,"x":37.5,"r":1},{"p":58,"x":52.5,"r":-3.5},{"p":58,"x":67.5,"r":2.5},{"p":58,"x":82.5,"r":-2},{"p":58,"x":97.5,"r":-6},{"p":58,"x":112.5,"r":0},{"p":58,"x":127.5,"r":-2},{"p":58,"x":142.5,"r":-5.5},{"p":58,"x":157.5,"r":3.5},{"p":58,"x":172.5,"r":1.5},{"p":58,"x":187.5,"r":-2.5},{"p":58,"x":202.5,"r":-1},{"p":58,"x":217.5,"r":4},
{"p":59,"x":7.5,"r":3.5},{"p":59,"x":22.5,"r":-2},{"p":59,"x":37.5,"r":-4.5},{"p":59,"x":52.5,"r":2.5},{"p":59,"x":67.5,"r":1},{"p":59,"x":82.5,"r":-4},{"p":59,"x":97.5,"r":3},{"p":59,"x":112.5,"r":1.5},{"p":59,"x":127.5,"r":-2.5},{"p":59,"x":142.5,"r":4.5},{"p":59,"x":157.5,"r":-1},{"p":59,"x":172.5,"r":-3.5},{"p":59,"x":187.5,"r":2},{"p":59,"x":202.5,"r":4},{"p":59,"x":217.5,"r":-3},
{"p":60,"x":7.5,"r":-3},{"p":60,"x":22.5,"r":4.5},{"p":60,"x":37.5,"r":1},{"p":60,"x":52.5,"r":-3.5},{"p":60,"x":67.5,"r":2.5},{"p":60,"x":82.5,"r":-1.5},{"p":60,"x":97.5,"r":-4},{"p":60,"x":112.5,"r":3},{"p":60,"x":127.5,"r":0.5},{"p":60,"x":142.5,"r":-4.5},{"p":60,"x":157.5,"r":3.5},{"p":60,"x":172.5,"r":1.5},{"p":60,"x":187.5,"r":-2.5},{"p":60,"x":202.5,"r":-1},{"p":60,"x":217.5,"r":4},
{"p":61,"x":7.5,"r":-3.5},{"p":61,"x":22.5,"r":2},{"p":61,"x":37.5,"r":4.5},{"p":61,"x":52.5,"r":-2.5},{"p":61,"x":67.5,"r":-1},{"p":61,"x":82.5,"r":4},{"p":61,"x":97.5,"r":-3},{"p":61,"x":112.5,"r":-1.5},{"p":61,"x":127.5,"r":2.5},{"p":61,"x":142.5,"r":-4.5},{"p":61,"x":157.5,"r":1},{"p":61,"x":172.5,"r":3.5},{"p":61,"x":187.5,"r":-2},{"p":61,"x":202.5,"r":-4},{"p":61,"x":217.5,"r":3},
{"p":62,"x":7.5,"r":-3},{"p":62,"x":22.5,"r":4.5},{"p":62,"x":37.5,"r":1},{"p":62,"x":52.5,"r":-3.5},{"p":62,"x":67.5,"r":2.5},{"p":62,"x":82.5,"r":-1.5},{"p":62,"x":97.5,"r":-4},{"p":62,"x":112.5,"r":3},{"p":62,"x":127.5,"r":0.5},{"p":62,"x":142.5,"r":-4.5},{"p":62,"x":157.5,"r":3.5},{"p":62,"x":172.5,"r":1.5},{"p":62,"x":187.5,"r":-2.5},{"p":62,"x":202.5,"r":-1},{"p":62,"x":217.5,"r":4},
{"p":63,"x":7.5,"r":3.5},{"p":63,"x":22.5,"r":-2},{"p":63,"x":37.5,"r":-4.5},{"p":63,"x":52.5,"r":2.5},{"p":63,"x":67.5,"r":1},{"p":63,"x":82.5,"r":-4},{"p":63,"x":97.5,"r":3},{"p":63,"x":112.5,"r":1.5},{"p":63,"x":127.5,"r":-2.5},{"p":63,"x":142.5,"r":4.5},{"p":63,"x":157.5,"r":-1},{"p":63,"x":172.5,"r":-3.5},{"p":63,"x":187.5,"r":1.5},{"p":63,"x":202.5,"r":2.5},{"p":63,"x":217.5,"r":-5},
{"p":64,"x":7.5,"r":-3},{"p":64,"x":22.5,"r":4.5},{"p":64,"x":37.5,"r":1},{"p":64,"x":52.5,"r":-3.5},{"p":64,"x":67.5,"r":2.5},{"p":64,"x":82.5,"r":-1.5},{"p":64,"x":97.5,"r":-3.5},{"p":64,"x":112.5,"r":4},{"p":64,"x":127.5,"r":1},{"p":64,"x":142.5,"r":-4.5},{"p":64,"x":157.5,"r":3.5},{"p":64,"x":172.5,"r":1.5},{"p":64,"x":187.5,"r":-2.5},{"p":64,"x":202.5,"r":-1},{"p":64,"x":217.5,"r":4}
]},
"transform":[{"calculate":"floor((datum.p-1)/8)","as":"rw"},{"calculate":"(datum.p-1)%8","as":"cl"}],
"facet":{"row":{"field":"rw","type":"ordinal","header":{"labels":false,"title":null}},"column":{"field":"cl","type":"ordinal","header":{"labels":false,"title":null}}},
"spacing":{"row":15.1,"column":20.4},
"bounds":"flush",
"spec":{
"width":24,"height":20,
"layer":[
{"mark":{"type":"line","color":"#ff0000","strokeWidth":0.7,"opacity":0.85},
"encoding":{"x":{"field":"x","type":"quantitative","scale":{"domain":[0,225],"nice":false},"axis":{"values":[0,225]}},
"y":{"field":"r","type":"quantitative","scale":{"domain":{"unionWith":[-20,20]}},"axis":{"tickCount":2}}}},
{"transform":[{"filter":"isValid(datum.b)"}],
"mark":{"type":"line","color":"#000000","strokeWidth":1.5},
"encoding":{"x":{"field":"x","type":"quantitative"},
"y":{"field":"b","type":"quantitative"}}}
]},
"resolve":{"scale":{"y":"independent"},"axis":{"x":"independent","y":"independent"}},
"config":{
"view":{"stroke":"#8c8c8c","strokeWidth":0.8},
"axis":{"grid":false,"domain":false,"ticks":false,"labelFont":"Liberation Sans","labelFontSize":7,"labelColor":"#000000","labelPadding":2,"title":null,"labelOverlap":false,"labelFlush":false}
}
}
